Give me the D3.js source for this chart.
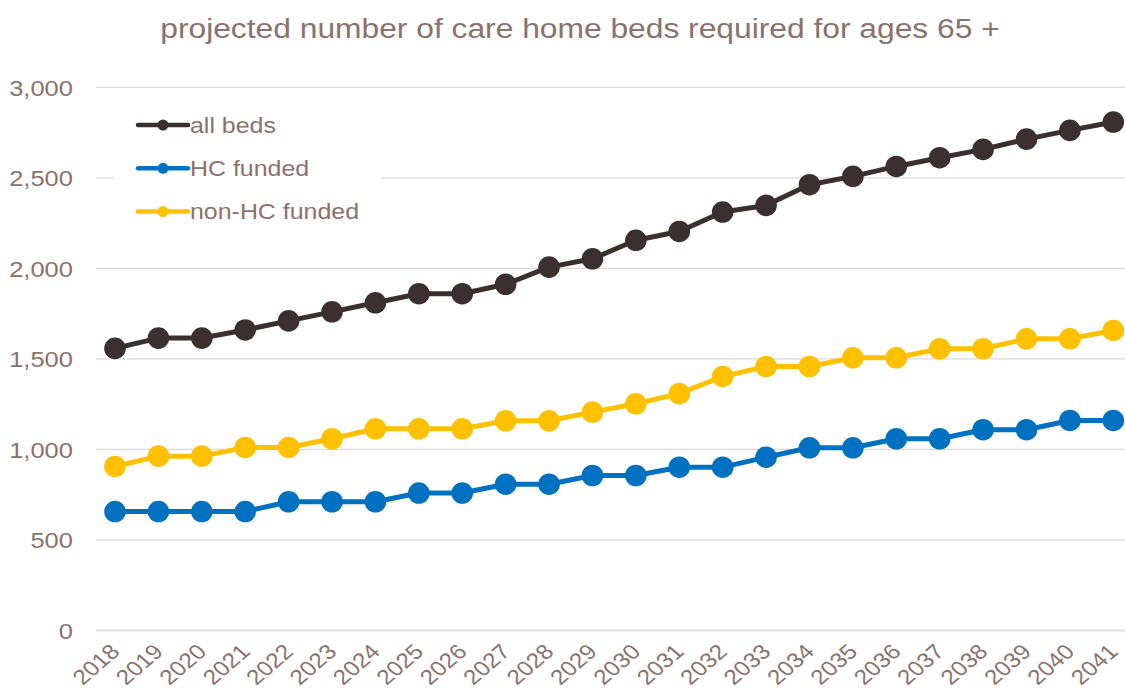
<!DOCTYPE html>
<html><head><meta charset="utf-8">
<script src="https://cdn.jsdelivr.net/npm/d3@7"></script>
<style>body{margin:0;background:#fff}svg{display:block}</style>
</head><body>
<svg id="c" width="1125" height="694"></svg>
<script>
const years = ["2018","2019","2020","2021","2022","2023","2024","2025","2026","2027","2028","2029","2030","2031","2032","2033","2034","2035","2036","2037","2038","2039","2040","2041"];
const allBeds = [1558,1615,1615,1660,1710,1760,1810,1860,1860,1912,2007,2053,2155,2204,2311,2348,2462,2508,2563,2611,2657,2714,2762,2808];
const hcFunded = [657,657,657,657,711,711,711,759,759,808,808,856,856,902,902,957,1009,1009,1059,1059,1109,1109,1160,1160];
const nonHcFunded = [906,963,963,1011,1011,1059,1114,1114,1114,1158,1158,1206,1252,1308,1403,1458,1458,1506,1506,1556,1556,1611,1611,1657];
const yTicks = [0,500,1000,1500,2000,2500,3000];
const seriesNames = ["all beds","HC funded","non-HC funded"];
const seriesColors = ["#3B302F","#0070C0","#FFC000"];
const title = "projected number of care home beds required for ages 65 +";

const series = [allBeds, hcFunded, nonHcFunded].map((v,i)=>({name:seriesNames[i], color:seriesColors[i], values:v}));
const txt = "#8B726B";
const svg = d3.select("#c");
const font = "'Liberation Sans', Arial, sans-serif";
const sx = 1.16; // horizontal stretch of text seen in the reference

const x = d3.scaleBand().domain(years).range([93.3, 1135]);
const y = d3.scaleLinear().domain([0,3000]).range([630.5, 87.3]);
const cx = d => x(d) + x.bandwidth()/2;

// title (stretched to the reference width)
const t = svg.append("text").attr("x",0).attr("y",0).attr("text-anchor","middle")
  .attr("font-family",font).attr("font-size",27).attr("fill",txt)
  .text(title);
const tw = t.node().getComputedTextLength();
t.attr("transform",`translate(580,38) scale(${840/tw},1)`);

// gridlines
svg.append("g").selectAll("line").data(yTicks).join("line")
  .attr("x1",96).attr("x2",1125).attr("y1",d=>y(d)).attr("y2",d=>y(d))
  .attr("stroke","#DEDAD8").attr("stroke-width",1.3);

// y axis labels
const yAxis = d3.axisLeft(y).tickValues(yTicks).tickFormat(d3.format(",")).tickSize(0).tickPadding(0);
const yg = svg.append("g").attr("transform","translate(73,0)").call(yAxis);
yg.select(".domain").remove();
yg.selectAll("text").attr("font-family",font).attr("font-size",22).attr("fill",txt)
  .attr("dy","0.35em").attr("transform",`scale(${sx},1)`);

// x axis labels
const xAxis = d3.axisBottom(x).tickSize(0).tickPadding(0);
const xg = svg.append("g").attr("transform","translate(0,645)").call(xAxis);
xg.select(".domain").remove();
xg.selectAll("text").attr("font-family",font).attr("font-size",21).attr("fill",txt)
  .attr("text-anchor","end").attr("dy",null).attr("y",0)
  .attr("transform",`translate(6,8) scale(${sx},1) rotate(-45)`);

// legend background
const lg = svg.append("g");
lg.append("rect").attr("x",113).attr("y",104).attr("width",268).attr("height",126).attr("fill","#fff");

// lines
const line = d3.line().x((d,i)=>cx(years[i])).y(d=>y(d));
const sg = svg.append("g").selectAll("g").data(series).join("g");
sg.append("path").attr("d",d=>line(d.values)).attr("fill","none")
  .attr("stroke",d=>d.color).attr("stroke-width",5).attr("stroke-linejoin","round");
sg.each(function(s){
  d3.select(this).selectAll("circle").data(s.values).join("circle")
    .attr("cx",(d,i)=>cx(years[i])).attr("cy",d=>y(d)).attr("r",10.8).attr("fill",s.color);
});

// legend items
const li = lg.selectAll("g.item").data(series).join("g").attr("class","item")
  .attr("transform",(d,i)=>`translate(0,${125+i*43.3})`);
li.append("line").attr("x1",138).attr("x2",188).attr("y1",0).attr("y2",0)
  .attr("stroke",d=>d.color).attr("stroke-width",4.5).attr("stroke-linecap","round");
li.append("circle").attr("cx",163).attr("cy",0).attr("r",5.5).attr("fill",d=>d.color);
li.append("text").attr("x",0).attr("y",0).attr("dy","0.35em")
  .attr("transform",`translate(190,0) scale(${sx},1)`)
  .attr("font-family",font).attr("font-size",21.5).attr("fill",txt).text(d=>d.name);
</script>
</body></html>
